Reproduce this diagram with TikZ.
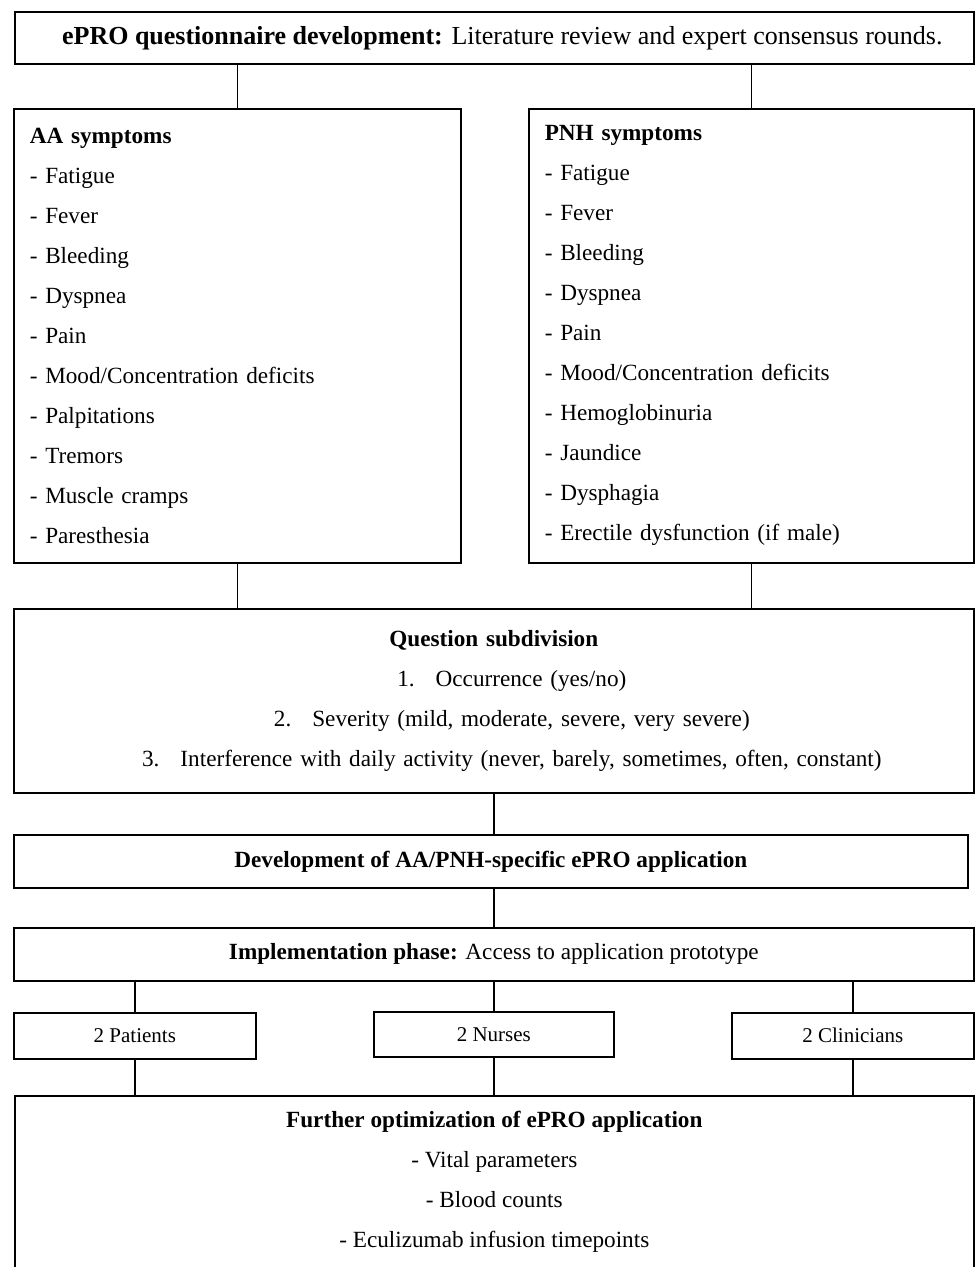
\documentclass[tikz,border=0pt]{standalone}
\usepackage{fontspec}
\setmainfont{Liberation Serif}
\begin{document}
\begin{tikzpicture}[x=0.5pt,y=-0.5pt,thick,
  box/.style={draw,anchor=north west,inner xsep=8pt,inner ysep=0pt,font=\fontsize{11.6}{20}\selectfont},
  smallbox/.style={box,minimum height=23pt,minimum width=121pt,font=\fontsize{10.5}{12}\selectfont}]
\useasboundingbox (0,0) rectangle (974,1267);
\node[box,minimum width=479.5pt,minimum height=26pt,font=\fontsize{13}{16}\selectfont] (qdev) at (14,11) {\hspace*{8pt}\textbf{ePRO questionnaire development:} Literature review and expert consensus rounds.};
\node[box,text width=207.5pt,minimum height=227pt,align=left] (aa) at (13,108) {\textbf{AA symptoms}\\- Fatigue\\- Fever\\- Bleeding\\- Dyspnea\\- Pain\\- Mood/Concentration deficits\\- Palpitations\\- Tremors\\- Muscle cramps\\- Paresthesia};
\node[box,text width=206.5pt,minimum height=227pt,align=left] (pnh) at (528,108) {\textbf{PNH symptoms}\\- Fatigue\\- Fever\\- Bleeding\\- Dyspnea\\- Pain\\- Mood/Concentration deficits\\- Hemoglobinuria\\- Jaundice\\- Dysphagia\\- Erectile dysfunction (if male)};
\node[box,text width=464pt,minimum height=92pt,align=center] (quest) at (13,608) {\textbf{Question subdivision}\\\hspace*{18pt}1.\hspace{10.5pt}Occurrence (yes/no)\\\hspace*{18pt}2.\hspace{10.5pt}Severity (mild, moderate, severe, very severe)\\\hspace*{18pt}3.\hspace{10.5pt}Interference with daily activity (never, barely, sometimes, often, constant)};
\node[box,minimum width=477pt,minimum height=26.5pt] (devapp) at (13,834) {\textbf{Development of AA/PNH-specific ePRO application}};
\node[box,minimum width=480pt,minimum height=26.5pt] (impl) at (13,927) {\textbf{Implementation phase:} Access to application prototype};
\node[smallbox] (pat) at (13,1012) {2 Patients};
\node[smallbox,minimum width=120pt,minimum height=22.5pt] (nur) at (373,1011) {2 Nurses};
\node[smallbox] (cli) at (731,1012) {2 Clinicians};
\node[box,inner sep=0pt] (opt) at (14,1095) {\parbox[c][100pt][t]{479.5pt}{\centering\vspace*{7.7pt}\textbf{Further optimization of ePRO application}\\- Vital parameters\\- Blood counts\\- Eculizumab infusion timepoints}};
\draw (qdev.south -| aa.north) -- (aa.north);
\draw (qdev.south -| pnh.north) -- (pnh.north);
\draw (aa.south) -- (aa.south |- quest.north);
\draw (pnh.south) -- (pnh.south |- quest.north);
\draw (quest.south) -- (quest.south |- devapp.north);
\draw (impl.north) -- (impl.north |- devapp.south);
\draw (impl.south -| pat.north) -- (pat.north);
\draw (impl.south -| nur.north) -- (nur.north);
\draw (impl.south -| cli.north) -- (cli.north);
\draw (pat.south) -- (pat.south |- opt.north);
\draw (nur.south) -- (nur.south |- opt.north);
\draw (cli.south) -- (cli.south |- opt.north);
\end{tikzpicture}
\end{document}
